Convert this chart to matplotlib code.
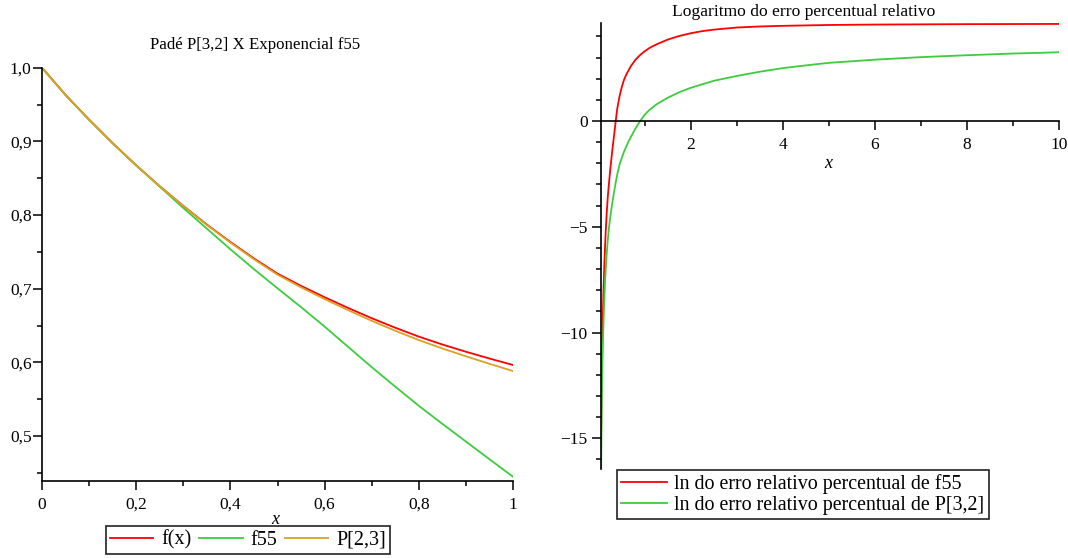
import numpy as np
import matplotlib
matplotlib.use("Agg")
import matplotlib.pyplot as plt
from matplotlib.ticker import FixedLocator, FuncFormatter

plt.rcParams['font.family'] = ['Liberation Serif', 'DejaVu Serif']

# Pade vs exponencial on [0, 1]
x_left = [0, 0.05, 0.1, 0.15, 0.2, 0.25, 0.3, 0.35, 0.4, 0.45, 0.5,
          0.55, 0.6, 0.65, 0.7, 0.75, 0.8, 0.85, 0.9, 0.95, 1.0]
f_vals = [1.000, 0.9630, 0.9294, 0.8975, 0.8674, 0.8390, 0.8124, 0.7870,
          0.7634, 0.7410, 0.7204, 0.7038, 0.6884, 0.6738, 0.6599, 0.6470,
          0.6349, 0.6242, 0.6144, 0.6052, 0.5964]
f55_vals = [1.000, 0.9630, 0.9294, 0.8975, 0.8674, 0.8385, 0.8095, 0.7815,
            0.7535, 0.7265, 0.7005, 0.6750, 0.6485, 0.6210, 0.5935, 0.5670,
            0.5410, 0.5165, 0.4925, 0.4685, 0.4447]
p23_vals = [1.000, 0.9630, 0.9294, 0.8975, 0.8674, 0.8390, 0.8123, 0.7866,
            0.7626, 0.7399, 0.7190, 0.7018, 0.6859, 0.6708, 0.6564, 0.6429,
            0.6302, 0.6188, 0.6082, 0.5980, 0.5882]

# ln of relative percentage error on [0, 10]
x_err_f55 = [0.045, 0.05, 0.06, 0.07, 0.08, 0.10, 0.125, 0.15, 0.175, 0.2,
             0.25, 0.3, 0.37, 0.4, 0.45, 0.5, 0.55, 0.6, 0.7, 0.8, 0.9, 1.0,
             1.1, 1.25, 1.5, 1.75, 2.0, 2.25, 2.5, 3.0, 3.5, 4.0, 5.0, 6.0,
             7.0, 8.0, 10.0]
err_f55 = [-16.5, -15.2, -13.1, -11.5, -10.2, -8.3, -6.6, -5.3, -4.3, -3.5,
           -2.3, -1.3, 0.0, 0.55, 1.15, 1.6, 1.95, 2.2, 2.6, 2.9, 3.12, 3.3,
           3.45, 3.62, 3.85, 4.02, 4.15, 4.25, 4.32, 4.42, 4.47, 4.50, 4.54,
           4.56, 4.57, 4.58, 4.59]
x_err_p32 = [0.053, 0.055, 0.06, 0.065, 0.07, 0.08, 0.09, 0.10, 0.12, 0.14,
             0.16, 0.19, 0.22, 0.26, 0.30, 0.33, 0.37, 0.41, 0.46, 0.55, 0.64,
             0.7, 0.8, 0.9, 1.0, 1.1, 1.25, 1.5, 1.75, 2.0, 2.5, 3.0, 3.5,
             4.0, 4.5, 5.0, 6.0, 7.0, 8.0, 9.0, 10.0]
err_p32 = [-16.45, -15.8, -14.7, -13.7, -12.9, -11.6, -10.6, -9.8, -8.5,
           -7.5, -6.7, -5.8, -5.1, -4.4, -3.8, -3.4, -2.9, -2.45, -2.0, -1.45,
           -1.0, -0.75, -0.35, 0.0, 0.3, 0.52, 0.78, 1.1, 1.36, 1.57, 1.9,
           2.13, 2.33, 2.5, 2.63, 2.75, 2.9, 3.02, 3.11, 3.19, 3.25]

red = '#ff0000'
green = '#3ccc3c'
gold = '#d8a224'

fig = plt.figure(figsize=(10.68, 5.58), dpi=100)


def style_axes(ax):
    for side in ('top', 'right'):
        ax.spines[side].set_visible(False)
    for side in ('left', 'bottom'):
        ax.spines[side].set_linewidth(1.2)
    ax.tick_params(which='major', direction='out', length=6.5, width=1.1,
                   labelsize=12.5, pad=2)
    ax.tick_params(which='minor', direction='out', length=3.5, width=1.1)
    ax.tick_params(axis='x', which='major', pad=5)
    ax.patch.set_alpha(0)


# left panel
ax1 = fig.add_axes([42 / 1068, 1 - 481 / 558, 471 / 1068, 413.3 / 558])
ax1.plot(x_left, f_vals, color=red, lw=1.3, label='f(x)')
ax1.plot(x_left, f55_vals, color=green, lw=1.3, label='f55')
ax1.plot(x_left, p23_vals, color=gold, lw=1.3, label='P[2,3]')
ax1.set_xlim(0, 1)
ax1.set_ylim(0.4389, 1.0)
style_axes(ax1)
ax1.xaxis.set_major_locator(FixedLocator([0, 0.2, 0.4, 0.6, 0.8, 1.0]))
ax1.xaxis.set_minor_locator(FixedLocator([0.1, 0.3, 0.5, 0.7, 0.9]))
ax1.xaxis.set_major_formatter(FuncFormatter(
    lambda v, p: '%d' % v if v in (0, 1) else ('%.1f' % v).replace('.', ',')))
ax1.yaxis.set_major_locator(FixedLocator([0.5, 0.6, 0.7, 0.8, 0.9, 1.0]))
ax1.yaxis.set_minor_locator(FixedLocator([0.45, 0.55, 0.65, 0.75, 0.85, 0.95]))
ax1.yaxis.set_major_formatter(FuncFormatter(lambda v, p: ('%.1f' % v).replace('.', ',')))
ax1.tick_params(axis='y', which='major', pad=1)

fig.text(255 / 1068, 1 - 45 / 558, 'Padé P[3,2] X Exponencial f55',
         ha='center', va='center', fontsize=12.2)
fig.text(275 / 1068, 1 - 519 / 558, 'x', style='italic', ha='center',
         va='center', fontsize=13)

leg1 = fig.legend(handles=ax1.get_lines(), loc='center',
                  bbox_to_anchor=(248 / 1068, 1 - 540 / 558), ncol=3,
                  fontsize=14.5, frameon=True, fancybox=False, framealpha=1,
                  edgecolor='#222222', handlelength=2.15, handletextpad=0.38,
                  columnspacing=0.4, borderpad=0.2, borderaxespad=0)
leg1.get_frame().set_linewidth(1.2)

# right panel
ax2 = fig.add_axes([600.7 / 1068, 1 - 469 / 558, 458 / 1068, 445.7 / 558])
ax2.plot(x_err_f55, err_f55, color=red, lw=1.3,
         label='ln do erro relativo percentual de f55')
ax2.plot(x_err_p32, err_p32, color=green, lw=1.3,
         label='ln do erro relativo percentual de P[3,2]')
ax2.set_xlim(0.043, 10)
ax2.set_ylim(-16.45, 4.62)
style_axes(ax2)
ax2.spines['bottom'].set_position(('data', 0))
ax2.xaxis.set_major_locator(FixedLocator([2, 4, 6, 8, 10]))
ax2.xaxis.set_minor_locator(FixedLocator([1, 3, 5, 7, 9]))
ax2.yaxis.set_major_locator(FixedLocator([-15, -10, -5, 0]))
ax2.yaxis.set_minor_locator(FixedLocator([v for v in range(-16, 5) if v % 5]))
ax2.yaxis.set_major_formatter(FuncFormatter(
    lambda v, p: '0' if v == 0 else '\u2212%d' % abs(v)))
ax2.tick_params(axis='y', which='major', pad=3)

fig.text(804 / 1068, 1 - 12 / 558, 'Logaritmo do erro percentual relativo',
         ha='center', va='center', fontsize=12.6)
fig.text(828 / 1068, 1 - 163 / 558, 'x', style='italic', ha='center',
         va='center', fontsize=13)

leg2 = fig.legend(handles=ax2.get_lines(), loc='center',
                  bbox_to_anchor=(803 / 1068, 1 - 494.5 / 558), ncol=1,
                  fontsize=14.4, frameon=True, fancybox=False, framealpha=1,
                  edgecolor='#222222', handlelength=2.3, handletextpad=0.35,
                  labelspacing=0.12, borderpad=0.2, borderaxespad=0)
leg2.get_frame().set_linewidth(1.2)

fig.savefig('out.png', dpi=100)
